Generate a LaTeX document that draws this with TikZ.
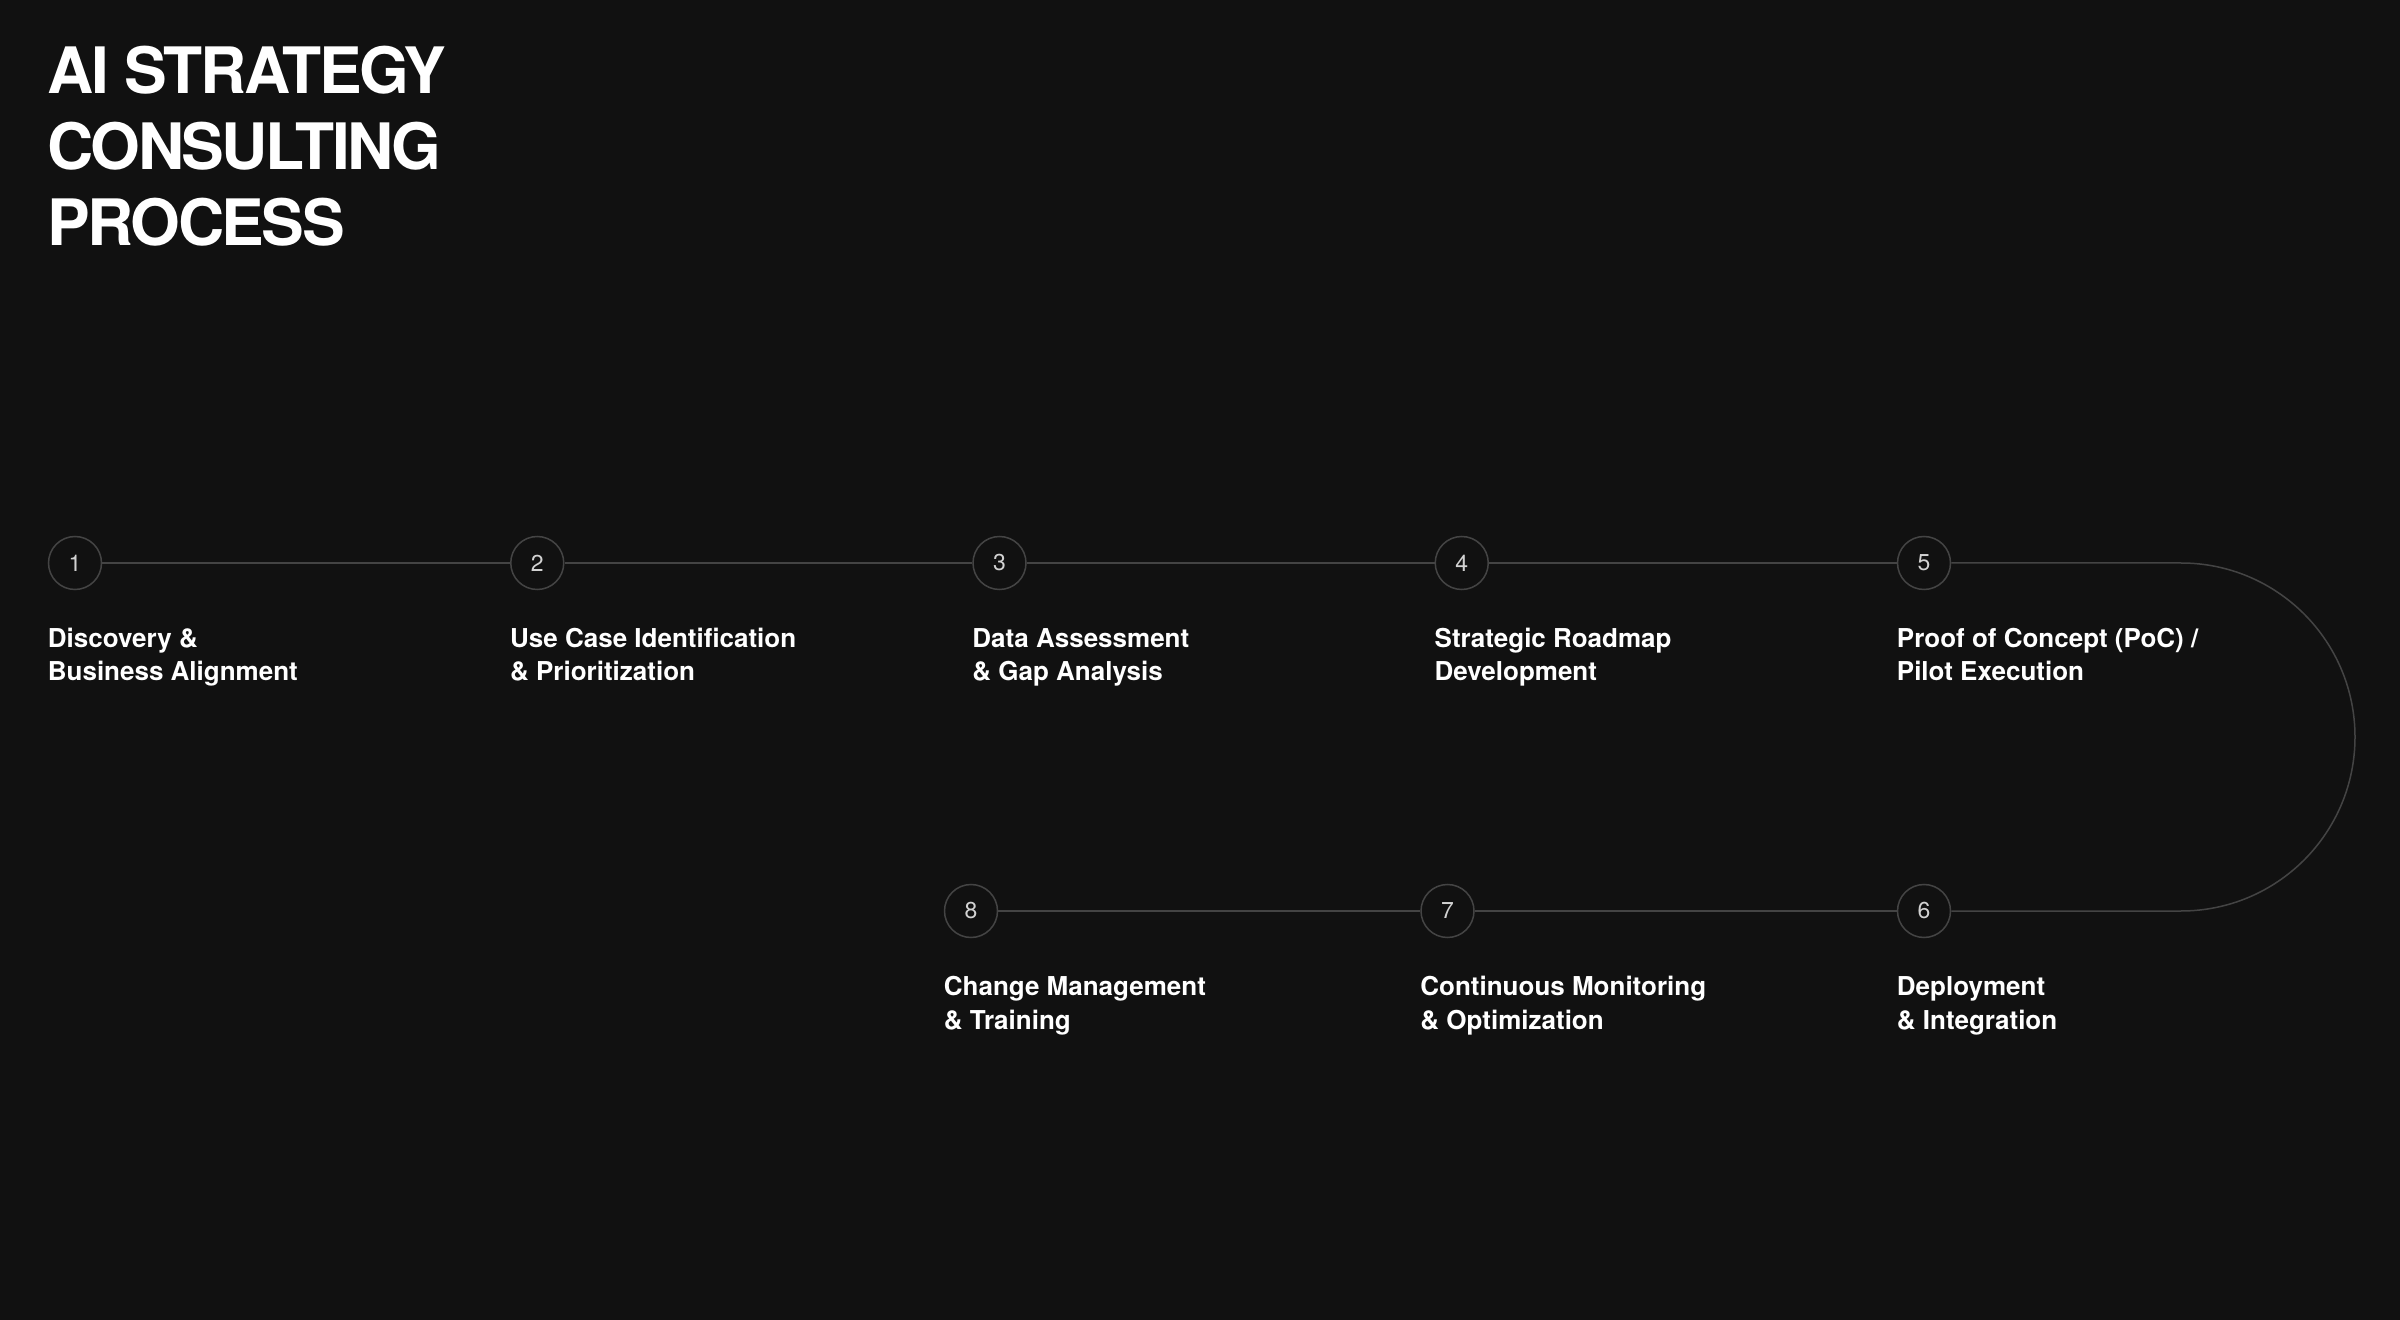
\documentclass[tikz,border=0pt]{standalone}
\usepackage{fontspec}
\setmainfont{TeX Gyre Heros}
\newfontfamily\titlefont[LetterSpace=-4]{TeX Gyre Heros}

\definecolor{bgcol}{HTML}{111111}
\definecolor{trackcol}{HTML}{444444}
\definecolor{numcol}{HTML}{D2D2D2}

\begin{document}
\begin{tikzpicture}[x=0.5pt, y=-0.5pt,
    stepdot/.style={circle, draw=trackcol, line width=0.75pt, minimum size=26.5pt,
        inner sep=0pt, text=numcol, font=\fontsize{11.5}{13}\selectfont},
    steplabel/.style={anchor=base west, align=left, inner sep=0pt, text=white,
        font=\bfseries\fontsize{13}{16.75}\selectfont},
    track/.style={draw=trackcol, line width=0.75pt}]
    \useasboundingbox (0,0) rectangle (2400,1320);
    \fill[bgcol] (0,0) rectangle (2400,1320);
    % base anchor sits on the last line
    \node[anchor=base west, align=left, inner sep=0pt, text=white,
        font=\titlefont\bfseries\fontsize{32}{38}\selectfont] (title) at (47,246)
        {AI STRATEGY\\CONSULTING\\PROCESS};
    % steps, top row left to right, bottom row right to left
    \foreach \i/\x in {1/75, 2/537.25, 3/999.5, 4/1461.75, 5/1924}
        \node[stepdot] (s\i) at (\x,563) {\i};
    \foreach \i/\x in {6/1924, 7/1447.5, 8/971}
        \node[stepdot] (s\i) at (\x,911) {\i};
    \foreach \a/\b in {1/2, 2/3, 3/4, 4/5, 6/7, 7/8}
        \draw[track] (s\a) -- (s\b);
    \coordinate (bendtop) at (2181,563);
    \coordinate (bendbot) at (2181,911);
    \draw[track] (s5) -- (bendtop) arc[start angle=-90, end angle=90, radius=174] -- (s6);
    % labels
    \node[steplabel] (l1) at (47.5,681) {Discovery \&\\Business Alignment};
    \node[steplabel] (l2) at (509.75,681) {Use Case Identification\\\& Prioritization};
    \node[steplabel] (l3) at (972,681) {Data Assessment\\\& Gap Analysis};
    \node[steplabel] (l4) at (1434.25,681) {Strategic Roadmap\\Development};
    \node[steplabel] (l5) at (1896.5,681) {Proof of Concept (PoC) /\\Pilot Execution};
    \node[steplabel] (l6) at (1896.5,1029) {Deployment\\\& Integration};
    \node[steplabel] (l7) at (1420,1029) {Continuous Monitoring\\\& Optimization};
    \node[steplabel] (l8) at (943.5,1029) {Change Management\\\& Training};
\end{tikzpicture}
\end{document}
